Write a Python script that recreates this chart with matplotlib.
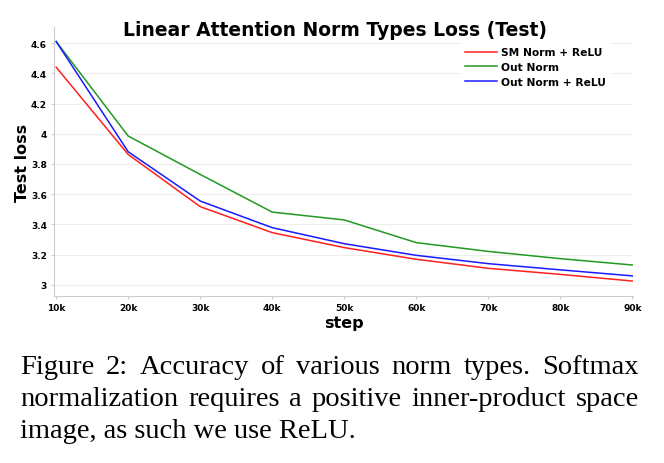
import numpy as np
import matplotlib.pyplot as plt

steps = [10, 20, 30, 40, 50, 60, 70, 80, 90]
step_labels = ['10k', '20k', '30k', '40k', '50k', '60k', '70k', '80k', '90k']
sm_relu = [4.44, 3.863, 3.518, 3.346, 3.247, 3.17, 3.11, 3.07, 3.026]
out_norm = [4.61, 3.985, 3.731, 3.482, 3.43, 3.28, 3.222, 3.174, 3.132]
out_relu = [4.61, 3.881, 3.555, 3.379, 3.273, 3.196, 3.141, 3.10, 3.06]
yticks = [3, 3.2, 3.4, 3.6, 3.8, 4, 4.2, 4.4, 4.6]
ytick_labels = ['3', '3.2', '3.4', '3.6', '3.8', '4', '4.2', '4.4', '4.6']

caption = [
    "Figure 2: Accuracy of various norm types. Softmax",
    "normalization requires a positive inner-product space",
    "image, as such we use ReLU.",
]

fig = plt.figure(figsize=(6.64, 4.64), dpi=100)
ax = fig.add_axes([54/664, 1-297/464, (633-54)/664, (297-28)/464])

ax.plot(steps, sm_relu, color='#ff2020', lw=1.1, label='SM Norm + ReLU')
ax.plot(steps, out_norm, color='#229922', lw=1.1, label='Out Norm')
ax.plot(steps, out_relu, color='#1a1aff', lw=1.1, label='Out Norm + ReLU')

ax.set_xlim(9.7, 90.1)
ax.set_ylim(2.927, 4.706)
ax.set_xticks(steps)
ax.set_xticklabels(step_labels)
ax.set_yticks(yticks)
ax.set_yticklabels(ytick_labels)
ax.tick_params(labelsize=6.5, length=2, color='#cccccc', pad=3)
for lab in ax.get_xticklabels() + ax.get_yticklabels():
    lab.set_fontweight('bold')
ax.grid(axis='y', color='#eeeeee', lw=0.8)
ax.set_axisbelow(True)
for s in ['top', 'right']:
    ax.spines[s].set_visible(False)
for s in ['left', 'bottom']:
    ax.spines[s].set_color('#cccccc')

ax.set_xlabel('step', fontsize=11.5, fontweight='bold', labelpad=2)
ax.set_ylabel('Test loss', fontsize=11.5, fontweight='bold', labelpad=1)
fig.text(335/664, 1-30/464, 'Linear Attention Norm Types Loss (Test)',
         ha='center', va='center', fontsize=13.5, fontweight='bold')

leg = ax.legend(loc='upper right', bbox_to_anchor=(0.96, 0.94), frameon=True,
                framealpha=1, edgecolor='white',
                prop={'weight': 'bold', 'size': 7.7}, handlelength=3,
                handletextpad=0.3, labelspacing=0.45, borderaxespad=0)

# caption, first two lines justified to the full width
fig.canvas.draw()
r = fig.canvas.get_renderer()
x0, x1 = 20, 639
ys = [368, 400, 432]
for i, line in enumerate(caption):
    y = 1 - ys[i]/464
    if i == 2:
        fig.text(x0/664, y, line, fontsize=20.5, family='Liberation Serif',
                 va='center', ha='left')
        continue
    words = line.split(' ')
    ts = [fig.text(0, y, w, fontsize=20.5, family='Liberation Serif',
                   va='center', ha='left') for w in words]
    widths = [t.get_window_extent(r).width for t in ts]
    gap = (x1 - x0 - sum(widths)) / (len(words) - 1)
    x = x0
    for t, w in zip(ts, widths):
        t.set_x(x/664)
        x += w + gap

fig.savefig('out.png', dpi=100)
